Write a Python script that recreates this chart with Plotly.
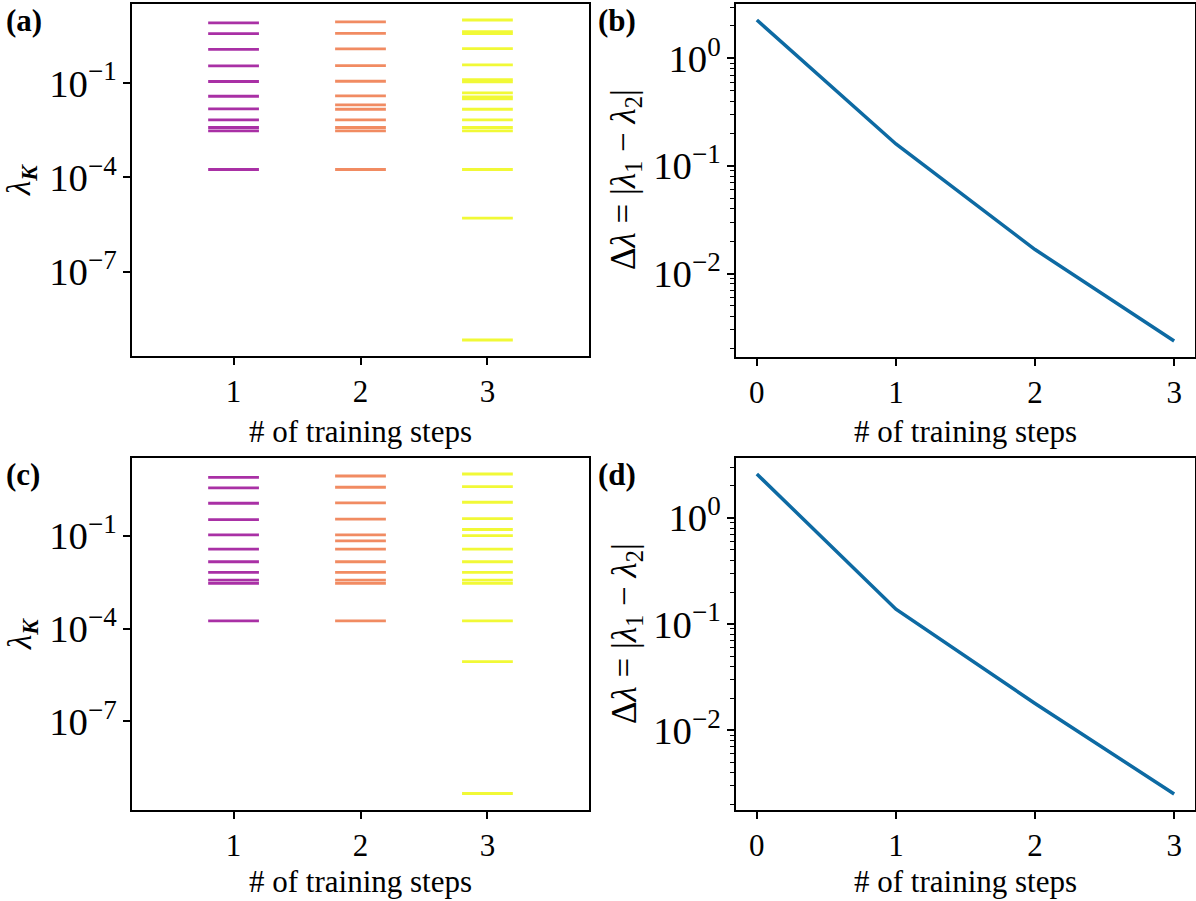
import numpy as np
import plotly.graph_objects as go

# Kernel eigenvalue spectra after each training step (top row: run A, bottom row: run B)
steps = [1, 2, 3]
spec_a_step1 = [8.15, 3.73, 1.18, 0.35, 0.112, 0.038, 0.0152, 0.0068, 0.00387, 0.00304, 1.79e-4]
spec_a_step2 = [8.77, 3.81, 1.22, 0.36, 0.114, 0.0393, 0.0203, 0.0147, 0.0068, 0.00387, 0.00304, 1.79e-4]
spec_a_step3 = [10.1, 4.32, 3.73, 1.24, 0.378, 0.129, 0.109, 0.0489, 0.0365, 0.0315, 0.0147,
                0.0068, 0.00387, 0.00304, 1.79e-4, 5.1e-6, 6.8e-10]

spec_c_step1 = [7.8, 3.53, 1.13, 0.336, 0.108, 0.0372, 0.0145, 0.00655, 0.00372, 0.00289, 1.77e-4]
spec_c_step2 = [8.6, 3.72, 1.16, 0.346, 0.108, 0.069, 0.0372, 0.0145, 0.00655, 0.00372, 0.00289, 1.77e-4]
spec_c_step3 = [10.0, 3.9, 1.22, 0.361, 0.16, 0.102, 0.0372, 0.0145, 0.00655, 0.00372, 0.00289,
                1.77e-4, 8.6e-6, 4.66e-10]

# Gap between the two leading eigenvalues vs. training step
gap_steps = [0, 1, 2, 3]
gap_b = [2.27, 0.160, 0.0167, 0.00236]
gap_d = [2.58, 0.138, 0.0179, 0.00252]

step_colors = ["#a01a9c", "#f07f52", "#f0f921"]
line_blue = "#0d6aa3"
FONT = "Liberation Serif"
FS_TICK = 31
FS_TITLE = 31
FS_YTITLE = 33
FS_GAPTITLE = 35
W, H = 1196, 901

fig = go.Figure()


def hline_trace(step, values, color, xa, ya, half=0.2):
    xs, ys = [], []
    for v in values:
        xs += [step - half, step + half, None]
        ys += [v, v, None]
    return go.Scatter(x=xs, y=ys, mode="lines", line=dict(color=color, width=2.8),
                      opacity=0.9, xaxis=xa, yaxis=ya, showlegend=False, hoverinfo="skip")


for step, vals, col in zip(steps, [spec_a_step1, spec_a_step2, spec_a_step3], step_colors):
    fig.add_trace(hline_trace(step, vals, col, "x", "y"))
for step, vals, col in zip(steps, [spec_c_step1, spec_c_step2, spec_c_step3], step_colors):
    fig.add_trace(hline_trace(step, vals, col, "x3", "y3"))

fig.add_trace(go.Scatter(x=gap_steps, y=gap_b, mode="lines", line=dict(color=line_blue, width=3.5),
                         xaxis="x2", yaxis="y2", showlegend=False))
fig.add_trace(go.Scatter(x=gap_steps, y=gap_d, mode="lines", line=dict(color=line_blue, width=3.5),
                         xaxis="x4", yaxis="y4", showlegend=False))


def log_range(values, pad=0.05):
    lo, hi = np.log10(min(values)), np.log10(max(values))
    span = hi - lo
    return [float(lo - pad * span), float(hi + pad * span)]


axis_common = dict(showline=True, linecolor="black", linewidth=2, mirror=True,
                   ticks="outside", ticklen=7, tickwidth=1.5, tickcolor="black",
                   showgrid=False, zeroline=False,
                   tickfont=dict(family=FONT, size=FS_TICK, color="black"))


def xd(l, r):
    return [l / W, r / W]


def yd(t, b):
    return [1 - b / H, 1 - t / H]


layout = dict(
    width=W, height=H, margin=dict(l=0, r=0, t=0, b=0),
    paper_bgcolor="white", plot_bgcolor="white",
    font=dict(family=FONT, size=FS_TICK, color="black"),
)

all_a = spec_a_step1 + spec_a_step2 + spec_a_step3
all_c = spec_c_step1 + spec_c_step2 + spec_c_step3

# spectrum panels: a decade label every third power of ten
spec_y = dict(type="log", tickmode="linear", tick0=-1, dtick=3, exponentformat="power")

layout["xaxis"] = dict(axis_common, domain=xd(132, 589), range=[0.2, 3.8],
                       tickmode="array", tickvals=steps, anchor="y")
layout["yaxis"] = dict(axis_common, **spec_y, domain=yd(4, 356), range=log_range(all_a), anchor="x")
layout["xaxis3"] = dict(axis_common, domain=xd(132, 589), range=[0.2, 3.8],
                        tickmode="array", tickvals=steps, anchor="y3")
layout["yaxis3"] = dict(axis_common, **spec_y, domain=yd(458, 809.5), range=log_range(all_c), anchor="x3")

# gap panels: every decade labelled, minor ticks at every digit
minor = dict(ticks="outside", ticklen=4, tickwidth=1.2, tickcolor="black",
             dtick="D1", showgrid=False)
gap_y = dict(type="log", tickmode="linear", tick0=0, dtick=1, exponentformat="power",
             labelalias={"1": "10<sup>0</sup>"}, minor=minor)

layout["xaxis2"] = dict(axis_common, domain=xd(736, 1195), range=[-0.15, 3.15],
                        tickmode="array", tickvals=gap_steps, anchor="y2")
layout["yaxis2"] = dict(axis_common, **gap_y, domain=yd(4, 357), range=log_range(gap_b), anchor="x2")
layout["xaxis4"] = dict(axis_common, domain=xd(736, 1195), range=[-0.15, 3.15],
                        tickmode="array", tickvals=gap_steps, anchor="y4")
layout["yaxis4"] = dict(axis_common, **gap_y, domain=yd(458, 810), range=log_range(gap_d), anchor="x4")

fig.update_layout(**layout)

ann = []
lam_k = "<i>\u03bb</i><sub><b><i>K</i></b></sub>"
gap_title = "\u0394<i>\u03bb</i> = |<i>\u03bb</i><sub>1</sub> \u2212 <i>\u03bb</i><sub>2</sub>|"
xtitle = "# of training steps"
for (xpx, ypx, txt, fs) in [(22, 180, lam_k, FS_YTITLE), (22, 634, lam_k, FS_YTITLE),
                            (626, 180, gap_title, FS_GAPTITLE), (626, 634, gap_title, FS_GAPTITLE)]:
    ann.append(dict(x=xpx / W, y=1 - ypx / H, xref="paper", yref="paper", text=txt, showarrow=False,
                    textangle=-90, xanchor="center", yanchor="middle",
                    font=dict(family=FONT, size=fs, color="black")))
for (xpx, ypx) in [(360.5, 431), (965.5, 431), (360.5, 881), (965.5, 881)]:
    ann.append(dict(x=xpx / W, y=1 - ypx / H, xref="paper", yref="paper", text=xtitle, showarrow=False,
                    xanchor="center", yanchor="middle",
                    font=dict(family=FONT, size=FS_TITLE, color="black")))
for (xpx, ypx, lab) in [(4, 1, "(a)"), (596, 1, "(b)"), (4, 455, "(c)"), (596, 455, "(d)")]:
    ann.append(dict(x=xpx / W, y=1 - ypx / H, xref="paper", yref="paper", text="<b>" + lab + "</b>",
                    showarrow=False, xanchor="left", yanchor="top",
                    font=dict(family=FONT, size=FS_TITLE, color="black")))
fig.update_layout(annotations=ann)

fig.write_html("out.html")
